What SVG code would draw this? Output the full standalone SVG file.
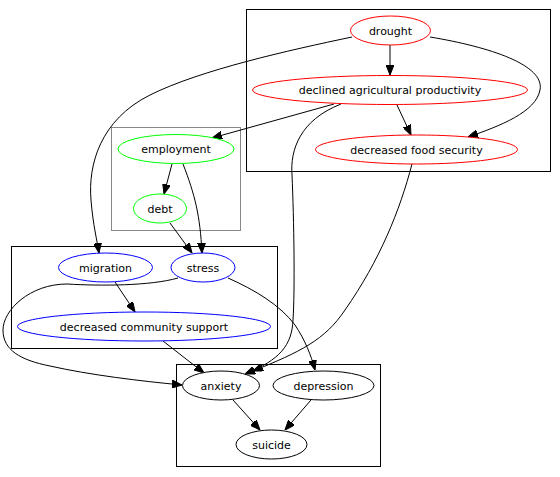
<svg xmlns="http://www.w3.org/2000/svg" width="560" height="477" viewBox="0 0 560 477">
<defs>
<marker id="ah" viewBox="0 0 10 8" refX="10" refY="4" markerWidth="10" markerHeight="8" markerUnits="userSpaceOnUse" orient="auto">
<path d="M0,0 L10,4 L0,8 z" fill="#000" stroke="#000" stroke-width="1"/>
</marker>
</defs>
<style>
text{font-family:"DejaVu Sans",Verdana,sans-serif;font-size:11px;fill:#000;text-anchor:middle}
.cl{fill:none;stroke:#000;stroke-width:1}
.cg{fill:none;stroke:#888;stroke-width:1}
.r{fill:#fff;stroke:#f00}
.g{fill:#fff;stroke:#0f0}
.b{fill:#fff;stroke:#00f}
.k{fill:#fff;stroke:#000}
#edges path{fill:none;stroke:#000;stroke-width:1;marker-end:url(#ah)}
</style>
<rect width="560" height="477" fill="#fff"/>
<g id="clusters">
<rect class="cl" x="246.5" y="9.5" width="304" height="162"/>
<rect class="cg" x="111.5" y="127.5" width="129" height="103"/>
<rect class="cl" x="11.5" y="246.5" width="266" height="102"/>
<rect class="cl" x="176.5" y="364.5" width="204" height="102"/>
</g>
<g id="edges">
<path d="M390,45 L390,75"/>
<path d="M352,37 C290,50 200,70 150,95 C100,120 88,165 91,200 C93,225 97,240 99,253"/>
<path d="M430,37 C490,47 545,65 540,90 C536,112 500,126 468,137"/>
<path d="M397,105 L411,135"/>
<path d="M334,104 L212,138"/>
<path d="M341,104 C300,120 290,150 292,175 C294,220 295,290 293,320 C292,345 280,360 245,374"/>
<path d="M412,164 C400,210 380,260 345,310 C325,340 300,352 253,371"/>
<path d="M172,164 L164,194"/>
<path d="M183,164 C195,195 200,215 202,253"/>
<path d="M170,223 L192,253"/>
<path d="M115,282 L135,312"/>
<path d="M178,278 C150,286 100,286 67,284 C30,284 3,310 3,330 C3,350 20,360 50,366 C90,375 140,381 182,385"/>
<path d="M228,278 C255,290 280,305 295,325 C305,340 311,355 315,370"/>
<path d="M163,341 L204,373"/>
<path d="M233,400 L260,430"/>
<path d="M311,400 L285,430"/>
</g>
<g id="drought"><ellipse class="r" cx="390.5" cy="30.5" rx="40" ry="14.5"/><text x="390.5" y="34.5">drought</text></g>
<g id="declined"><ellipse class="r" cx="390" cy="90" rx="137.5" ry="14.5"/><text x="390" y="94">declined agricultural productivity</text></g>
<g id="foodsecurity"><ellipse class="r" cx="416.5" cy="149.5" rx="101" ry="14.5"/><text x="416.5" y="153.5">decreased food security</text></g>
<g id="employment"><ellipse class="g" cx="176" cy="149" rx="58" ry="14.5"/><text x="176" y="153">employment</text></g>
<g id="debt"><ellipse class="g" cx="160" cy="208.5" rx="26.5" ry="14.5"/><text x="160" y="212.5">debt</text></g>
<g id="migration"><ellipse class="b" cx="105.5" cy="267.5" rx="47" ry="14.5"/><text x="105.5" y="271.5">migration</text></g>
<g id="stress"><ellipse class="b" cx="203" cy="267.5" rx="32" ry="14.5"/><text x="203" y="271.5">stress</text></g>
<g id="community"><ellipse class="b" cx="144" cy="326.5" rx="126.5" ry="14.5"/><text x="144" y="330.5">decreased community support</text></g>
<g id="anxiety"><ellipse class="k" cx="221" cy="385.5" rx="38.5" ry="14.5"/><text x="221" y="389.5">anxiety</text></g>
<g id="depression"><ellipse class="k" cx="323.5" cy="385.5" rx="50.5" ry="14.5"/><text x="323.5" y="389.5">depression</text></g>
<g id="suicide"><ellipse class="k" cx="271.5" cy="444.5" rx="35.5" ry="14.5"/><text x="271.5" y="448.5">suicide</text></g>
</svg>
